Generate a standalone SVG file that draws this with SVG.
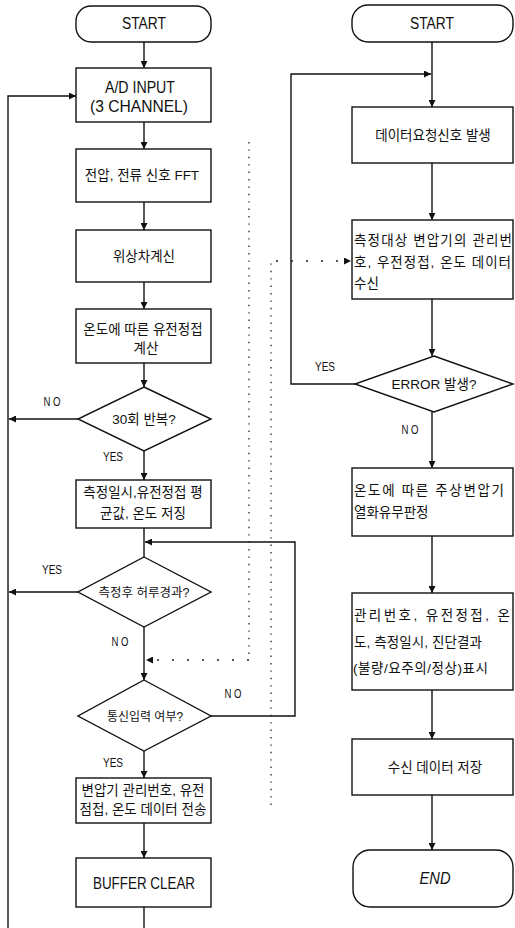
<svg xmlns="http://www.w3.org/2000/svg" width="515" height="928" viewBox="0 0 515 928">
<style>
.bg{fill:#fff}
.box{fill:#fff;stroke:#111;stroke-width:1.4}
.ln{fill:none;stroke:#111;stroke-width:1.4}
.dot{fill:none;stroke:#222;stroke-width:1.3;stroke-dasharray:1.4 6}
.dotw{fill:none;stroke:#222;stroke-width:1.3;stroke-dasharray:2 13}
.t{font-family:"Liberation Sans","Noto Sans CJK KR",sans-serif;font-size:13.5px;fill:#111}
.c{text-anchor:middle}
.lat{font-family:"Liberation Sans",sans-serif;font-size:16px;fill:#111;text-anchor:middle}
.lbl{font-family:"Liberation Sans",sans-serif;font-size:12px;fill:#111;text-anchor:middle}
</style>
<defs>
<marker id="ah" viewBox="0 0 10 10" refX="10" refY="5" markerWidth="7" markerHeight="7" markerUnits="userSpaceOnUse" orient="auto">
<path d="M0,0 L10,5 L0,10 z" fill="#111"/>
</marker>
</defs>
<rect class="bg" x="0" y="0" width="515" height="928"/>

<g id="connectors">
<!-- left flowchart -->
<line class="ln" x1="144" y1="42" x2="144" y2="68" marker-end="url(#ah)"/>
<line class="ln" x1="144" y1="122" x2="144" y2="149" marker-end="url(#ah)"/>
<line class="ln" x1="144" y1="202" x2="144" y2="230" marker-end="url(#ah)"/>
<line class="ln" x1="144" y1="282" x2="144" y2="309" marker-end="url(#ah)"/>
<line class="ln" x1="144" y1="363" x2="144" y2="387" marker-end="url(#ah)"/>
<line class="ln" x1="144" y1="451" x2="144" y2="480" marker-end="url(#ah)"/>
<line class="ln" x1="144" y1="528" x2="144" y2="557"/>
<line class="ln" x1="144" y1="627" x2="144" y2="680" marker-end="url(#ah)"/>
<line class="ln" x1="144" y1="751" x2="144" y2="778" marker-end="url(#ah)"/>
<line class="ln" x1="144" y1="823" x2="144" y2="858" marker-end="url(#ah)"/>
<line class="ln" x1="144" y1="907" x2="144" y2="928"/>
<line class="ln" x1="78" y1="419" x2="9" y2="419" marker-end="url(#ah)"/>
<line class="ln" x1="78" y1="592" x2="9" y2="592" marker-end="url(#ah)"/>
<path class="ln" d="M8,928 V96 H76" marker-end="url(#ah)"/>
<path class="ln" d="M211,716 H295 V542 H145" marker-end="url(#ah)"/>
<!-- right flowchart -->
<line class="ln" x1="432" y1="42" x2="432" y2="107" marker-end="url(#ah)"/>
<line class="ln" x1="432" y1="163" x2="432" y2="220" marker-end="url(#ah)"/>
<line class="ln" x1="432" y1="299" x2="432" y2="356" marker-end="url(#ah)"/>
<line class="ln" x1="432" y1="412" x2="432" y2="468" marker-end="url(#ah)"/>
<line class="ln" x1="432" y1="536" x2="432" y2="593" marker-end="url(#ah)"/>
<line class="ln" x1="432" y1="690" x2="432" y2="739" marker-end="url(#ah)"/>
<line class="ln" x1="432" y1="795" x2="432" y2="850" marker-end="url(#ah)"/>
<path class="ln" d="M355,384 H291 V74 H431" marker-end="url(#ah)"/>
<!-- dotted communication lines -->
<line class="dot" x1="249" y1="142" x2="249" y2="660"/>
<line class="dotw" x1="249" y1="660" x2="146" y2="660" marker-end="url(#ah)"/>
<line class="dot" x1="271" y1="805" x2="271" y2="258"/>
<line class="dotw" x1="276" y1="261" x2="351" y2="261" marker-end="url(#ah)"/>
</g>

<g id="start1">
<rect class="box" x="76" y="6" width="135" height="36" rx="15" ry="15"/>
<text class="lat" x="144" y="29" textLength="44" lengthAdjust="spacingAndGlyphs">START</text>
</g>
<g id="adinput">
<rect class="box" x="76" y="68" width="135" height="54"/>
<text class="lat" x="140" y="93" textLength="70" lengthAdjust="spacingAndGlyphs">A/D INPUT</text>
<text class="lat" x="139" y="112" textLength="98" lengthAdjust="spacingAndGlyphs">(3 CHANNEL)</text>
</g>
<g id="fft">
<rect class="box" x="76" y="149" width="135" height="53"/>
<text class="t c" x="142" y="180">전압, 전류 신호 FFT</text>
</g>
<g id="phase">
<rect class="box" x="76" y="230" width="135" height="52"/>
<text class="t c" x="144" y="261">위상차계신</text>
</g>
<g id="tandelta">
<rect class="box" x="76" y="309" width="135" height="54"/>
<text class="t c" x="143" y="334">온도에 따른 유전정접</text>
<text class="t c" x="146" y="353">계산</text>
</g>
<g id="repeat30">
<polygon class="box" points="144,387 211,419 144,451 78,419"/>
<text class="t c" x="144" y="424">30회 반복?</text>
</g>
<g id="save">
<rect class="box" x="76" y="480" width="135" height="48"/>
<text class="t c" x="143" y="497">측정일시,유전정접 평</text>
<text class="t c" x="143" y="518">균값, 온도 저징</text>
</g>
<g id="dayover">
<polygon class="box" points="144,557 211,592 144,627 78,592"/>
<text class="t c" x="144" y="597" style="font-size:12.5px">측정후 허루경과?</text>
</g>
<g id="commin">
<polygon class="box" points="144,680 211,716 144,751 78,716"/>
<text class="t c" x="145" y="721" style="font-size:12px">통신입력 여부?</text>
</g>
<g id="send">
<rect class="box" x="76" y="778" width="135" height="45"/>
<text class="t c" x="143" y="795">변압기 관리번호, 유전</text>
<text class="t c" x="143" y="814">점접, 온도 데이터 전송</text>
</g>
<g id="buffer">
<rect class="box" x="76" y="858" width="135" height="49"/>
<text class="lat" x="144" y="889" textLength="102" lengthAdjust="spacingAndGlyphs">BUFFER CLEAR</text>
</g>

<g id="labels-left">
<text class="lbl" x="52" y="406" textLength="17" lengthAdjust="spacingAndGlyphs">N O</text>
<text class="lbl" x="113" y="461" textLength="20" lengthAdjust="spacingAndGlyphs">YES</text>
<text class="lbl" x="52" y="574" textLength="20" lengthAdjust="spacingAndGlyphs">YES</text>
<text class="lbl" x="120" y="646" textLength="17" lengthAdjust="spacingAndGlyphs">N O</text>
<text class="lbl" x="233" y="698" textLength="17" lengthAdjust="spacingAndGlyphs">N O</text>
<text class="lbl" x="113" y="767" textLength="20" lengthAdjust="spacingAndGlyphs">YES</text>
</g>

<g id="start2">
<rect class="box" x="352" y="5" width="161" height="37" rx="16" ry="16"/>
<text class="lat" x="432" y="29" textLength="44" lengthAdjust="spacingAndGlyphs">START</text>
</g>
<g id="request">
<rect class="box" x="352" y="107" width="161" height="56"/>
<text class="t c" x="433" y="140">데이터요청신호 발생</text>
</g>
<g id="receive">
<rect class="box" x="352" y="220" width="161" height="79"/>
<text class="t" x="354" y="245" textLength="158">측정대상 변압기의 관리번</text>
<text class="t" x="354" y="267" textLength="157">호, 우전정접, 온도 데이터</text>
<text class="t" x="354" y="288">수신</text>
</g>
<g id="error">
<polygon class="box" points="434,356 513,384 434,412 355,384"/>
<text class="t c" x="434" y="389"><tspan style="font-family:'Liberation Sans',sans-serif">ERROR</tspan> 발생?</text>
</g>
<g id="judge">
<rect class="box" x="352" y="468" width="161" height="68"/>
<text class="t" x="354" y="495" textLength="150">온도에 따른 주상변압기</text>
<text class="t" x="354" y="517">열화유무판정</text>
</g>
<g id="display">
<rect class="box" x="352" y="593" width="161" height="97"/>
<text class="t" x="354" y="620" textLength="156">관리번호, 유전정접, 온</text>
<text class="t" x="354" y="647" textLength="128">도, 측정일시, 진단결과</text>
<text class="t" x="353" y="673" textLength="135">(불량/요주의/정상)표시</text>
</g>
<g id="store">
<rect class="box" x="352" y="739" width="161" height="56"/>
<text class="t c" x="435" y="772">수신 데이터 저장</text>
</g>
<g id="end">
<rect class="box" x="353" y="850" width="160" height="57" rx="17" ry="17"/>
<text class="lat" x="435" y="884" style="font-style:italic" textLength="31" lengthAdjust="spacingAndGlyphs">END</text>
</g>

<g id="labels-right">
<text class="lbl" x="325" y="371" textLength="20" lengthAdjust="spacingAndGlyphs">YES</text>
<text class="lbl" x="410" y="434" textLength="17" lengthAdjust="spacingAndGlyphs">N O</text>
</g>
</svg>
